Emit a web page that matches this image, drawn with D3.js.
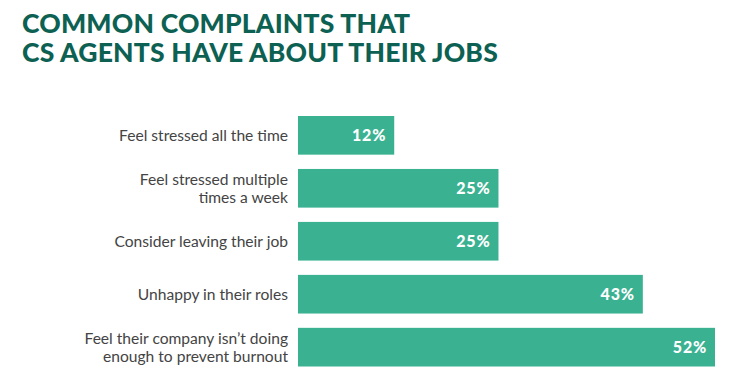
<!DOCTYPE html>
<html>
<head>
<meta charset="utf-8">
<script src="https://cdn.jsdelivr.net/npm/d3@7"></script>
<style>
  html, body { margin: 0; padding: 0; background: #fff; }
  svg { display: block; }
</style>
</head>
<body>
<div id="chart"></div>
<script>
(function () {
    const titleLines = ["COMMON COMPLAINTS THAT", "CS AGENTS HAVE ABOUT THEIR JOBS"];
    const categories = [
        ["Feel stressed all the time"],
        ["Feel stressed multiple", "times a week"],
        ["Consider leaving their job"],
        ["Unhappy in their roles"],
        ["Feel their company isn\u2019t doing", "enough to prevent burnout"]
    ];
    const values = [12, 25, 25, 43, 52];

    const width = 744, height = 385;
    const barColor = "#3ab292";
    const titleColor = "#0d6152";

    const svg = d3.select("#chart").append("svg")
        .attr("width", width)
        .attr("height", height);

    // title
    const title = svg.append("g");
    titleLines.forEach((t, i) => {
        title.append("text")
            .attr("x", 22)
            .attr("y", 33 + i * 29)
            .attr("fill", titleColor)
            .style("font", "900 26.5px Lato, sans-serif")
            .style("letter-spacing", "0.2px")
            .text(t);
    });

    const data = categories.map((c, i) => ({ key: i, lines: c, value: values[i] }));

    const x = d3.scaleLinear().domain([0, 52]).range([298, 715]);
    const y = d3.scaleBand()
        .domain(data.map(d => d.key))
        .range([116, 366.5])
        .paddingInner(0.27)
        .paddingOuter(0);

    svg.append("g").selectAll("rect")
        .data(data)
        .enter()
        .append("rect")
        .attr("x", x(0))
        .attr("y", d => y(d.key))
        .attr("width", d => x(d.value) - x(0))
        .attr("height", y.bandwidth())
        .attr("fill", barColor);

    // values inside bars
    svg.append("g").selectAll("text")
        .data(data)
        .enter()
        .append("text")
        .attr("x", d => x(d.value) - 8)
        .attr("y", d => y(d.key) + y.bandwidth() / 2)
        .attr("dy", "0.36em")
        .attr("text-anchor", "end")
        .attr("fill", "#fff")
        .style("font", "900 16px Lato, sans-serif")
        .style("letter-spacing", "0.8px")
        .text(d => d.value + "%");

    // category labels
    const labels = svg.append("g").selectAll("text")
        .data(data)
        .enter()
        .append("text")
        .attr("text-anchor", "end")
        .attr("fill", "#444")
        .style("font", "400 15.6px Lato, sans-serif");

    labels.each(function (d) {
        const cy = y(d.key) + y.bandwidth() / 2;
        const lh = 18;
        const startY = cy - (d.lines.length - 1) * lh / 2;
        d3.select(this).selectAll("tspan")
            .data(d.lines)
            .enter()
            .append("tspan")
            .attr("x", 288)
            .attr("y", (l, i) => startY + i * lh)
            .attr("dy", "0.35em")
            .text(l => l);
    });
})();
</script>
</body>
</html>
